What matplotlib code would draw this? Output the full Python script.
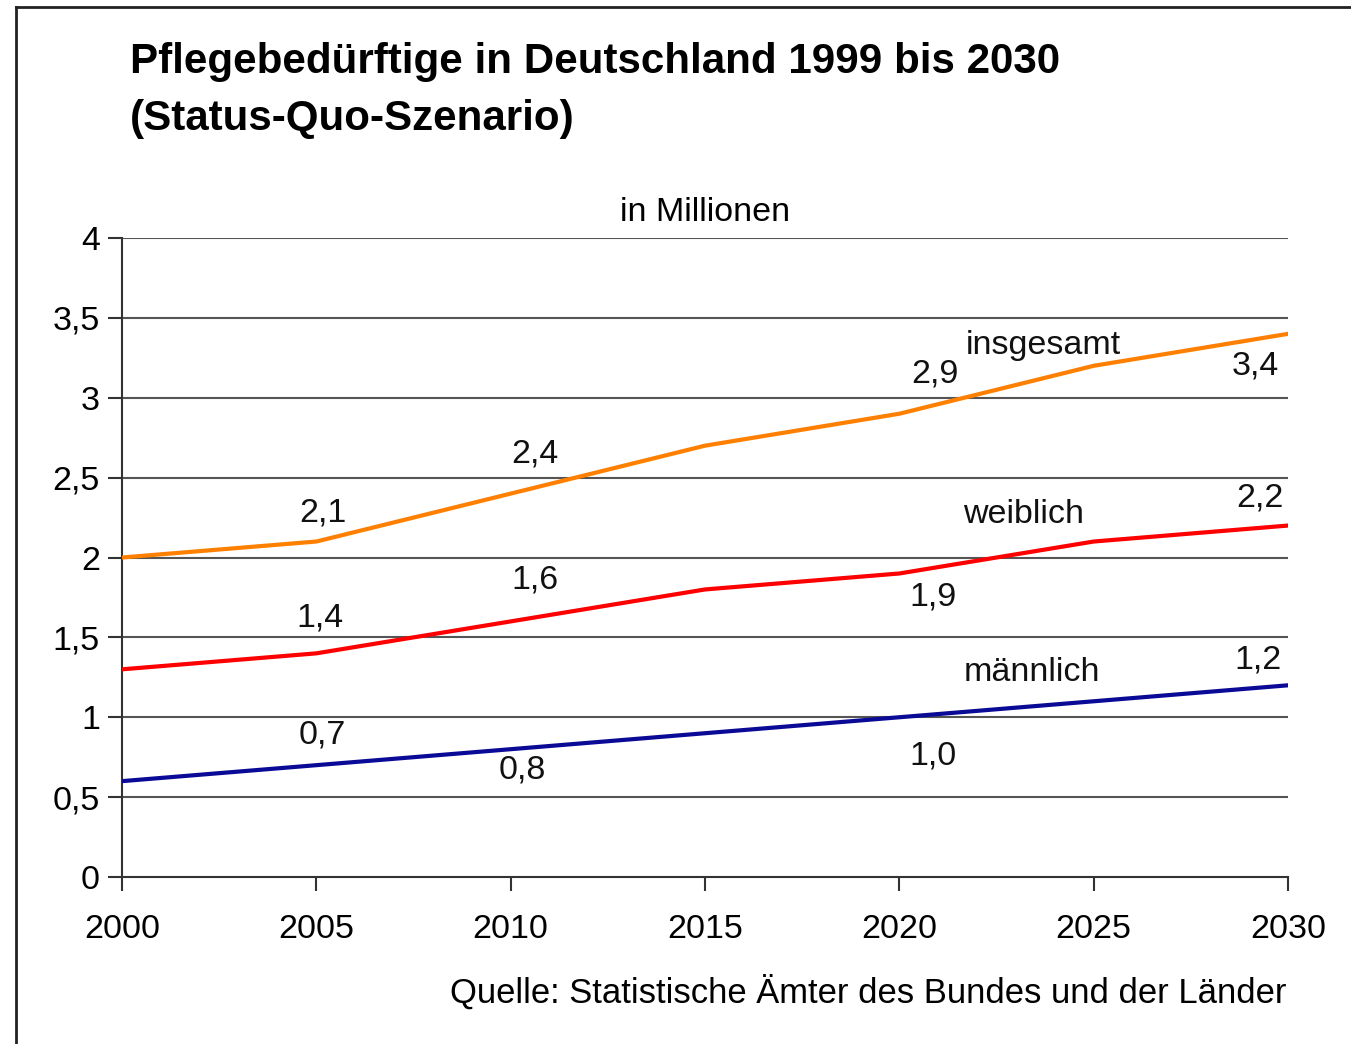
import matplotlib.pyplot as plt
from matplotlib.lines import Line2D
from matplotlib.ticker import FuncFormatter

plt.rcParams['font.family'] = ['Liberation Sans', 'DejaVu Sans']

years = [2000, 2005, 2010, 2015, 2020, 2025, 2030]
insgesamt = [2.0, 2.1, 2.4, 2.7, 2.9, 3.2, 3.4]
weiblich = [1.3, 1.4, 1.6, 1.8, 1.9, 2.1, 2.2]
maennlich = [0.6, 0.7, 0.8, 0.9, 1.0, 1.1, 1.2]

# value labels: (text, x, y) in data coords
labels_ins = [("2,1", 2005.17, 2.28), ("2,4", 2010.63, 2.65), ("2,9", 2020.92, 3.15), ("3,4", 2029.15, 3.20)]
labels_wei = [("1,4", 2005.1, 1.62), ("1,6", 2010.63, 1.86), ("1,9", 2020.86, 1.75), ("2,2", 2029.28, 2.37)]
labels_mae = [("0,7", 2005.15, 0.89), ("0,8", 2010.29, 0.67), ("1,0", 2020.86, 0.76), ("1,2", 2029.22, 1.36)]
series_names = [("insgesamt", 2023.7, 3.33), ("weiblich", 2023.2, 2.27), ("männlich", 2023.41, 1.28)]

fig = plt.figure(figsize=(13.51, 10.44), dpi=100)
ax = fig.add_axes([122/1351, 1-877/1044, (1288-122)/1351, (877-238)/1044])

for y in [0.5, 1, 1.5, 2, 2.5, 3, 3.5, 4]:
    ax.axhline(y, color="#555555", lw=1.5, zorder=1)

ax.plot(years, insgesamt, color="#ff8000", lw=3, zorder=3)
ax.plot(years, weiblich, color="#ff0000", lw=3, zorder=3)
ax.plot(years, maennlich, color="#0a0a96", lw=3, zorder=3)

fs = 24.5
for lab in (labels_ins, labels_wei, labels_mae):
    for t, x, y in lab:
        ax.text(x, y, t, fontsize=fs, ha="center", va="center", color="#111111")
for t, x, y in series_names:
    ax.text(x, y, t, fontsize=fs, ha="center", va="center", color="#111111")

ax.set_xlim(2000, 2030)
ax.set_ylim(0, 4)
ax.set_xticks(years)
ax.set_yticks([0, 0.5, 1, 1.5, 2, 2.5, 3, 3.5, 4])
ax.yaxis.set_major_formatter(FuncFormatter(lambda v, p: ("%g" % v).replace(".", ",")))
ax.tick_params(axis="both", labelsize=fs, length=10, width=1.5, color="#333333", direction="out")
ax.tick_params(axis="x", pad=17)
ax.tick_params(axis="y", pad=6)
for s in ["top", "right"]:
    ax.spines[s].set_visible(False)
for s in ["left", "bottom"]:
    ax.spines[s].set_color("#333333")
    ax.spines[s].set_linewidth(1.5)

ax.text(0.5, 1.04, "in Millionen", transform=ax.transAxes, fontsize=fs, ha="center", va="center")

fig.text(130/1351, 1-62/1044, "Pflegebedürftige in Deutschland 1999 bis 2030", fontsize=30.3,
         fontweight="bold", ha="left", va="center")
fig.text(130/1351, 1-119/1044, "(Status-Quo-Szenario)", fontsize=30.3,
         fontweight="bold", ha="left", va="center")
fig.text(1286/1351, 1-992/1044, "Quelle: Statistische Ämter des Bundes und der Länder", fontsize=24.9,
         ha="right", va="center")

# outer frame (left and top edge)
fig.add_artist(Line2D([16/1351, 16/1351], [0, 1-7/1044], transform=fig.transFigure, color="#222222", lw=2))
fig.add_artist(Line2D([16/1351, 1], [1-7/1044, 1-7/1044], transform=fig.transFigure, color="#222222", lw=2))

fig.savefig("out.png", dpi=100)
